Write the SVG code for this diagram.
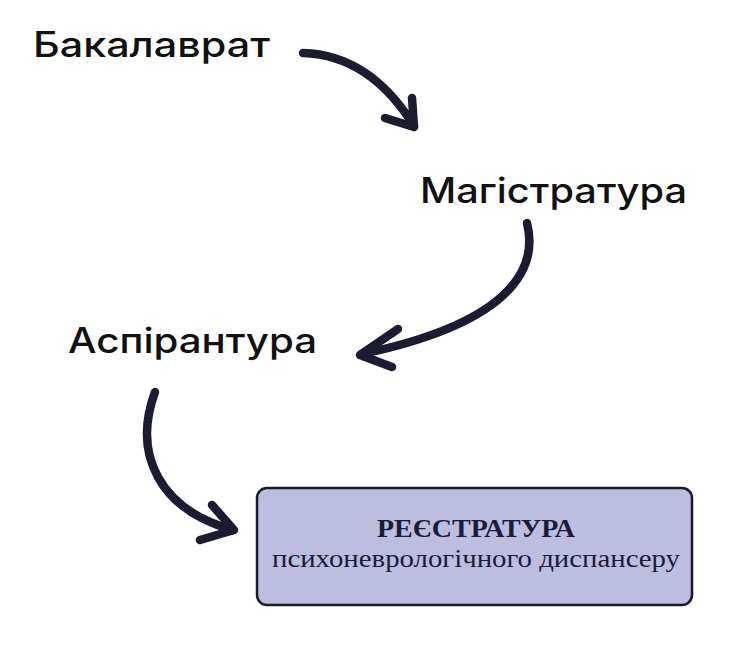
<svg xmlns="http://www.w3.org/2000/svg" width="735" height="650" viewBox="0 0 735 650">
<style>
.lbl{font-family:Inter,"Open Sans","Liberation Sans",sans-serif;font-weight:500;font-size:35px;fill:#111111}
.arrow{fill:none;stroke:#1c1c30;stroke-width:8.5;stroke-linecap:round;stroke-linejoin:round}
.box{fill:#bdbddf;stroke:#1a1a2e;stroke-width:2.5}
.t1{font-family:"Liberation Serif","Times New Roman",serif;font-weight:bold;font-size:26px;fill:#1b1b3a}
.t2{font-family:"Liberation Serif","Times New Roman",serif;font-size:26px;fill:#1b1b3a}
</style>
<rect width="735" height="650" fill="#ffffff"/>
<g id="connectors">
<path class="arrow" d="M303,53 Q370,55 414,126"/>
<path class="arrow" d="M385,118 L414,127 L412,98"/>
<path class="arrow" d="M527,223 C540,275 500,325 362,354"/>
<path class="arrow" d="M398,329 L360,355 L392,367"/>
<path class="arrow" d="M155,392 C132,455 160,510 233,530"/>
<path class="arrow" d="M212,505 L234,530 L200,540"/>
</g>
<g id="node-bakalavrat">
<text class="lbl" x="33" y="57" textLength="237" lengthAdjust="spacingAndGlyphs">Бакалаврат</text>
</g>
<g id="node-magistratura">
<text class="lbl" x="420" y="203" textLength="267" lengthAdjust="spacingAndGlyphs">Магістратура</text>
</g>
<g id="node-aspirantura">
<text class="lbl" x="68" y="353" textLength="249" lengthAdjust="spacingAndGlyphs">Аспірантура</text>
</g>
<g id="node-reiestratura">
<rect class="box" x="257" y="488" width="435" height="117" rx="10"/>
<text class="t1" x="476" y="537" text-anchor="middle" textLength="198" lengthAdjust="spacingAndGlyphs">РЕЄСТРАТУРА</text>
<text class="t2" x="476" y="567" text-anchor="middle" textLength="408" lengthAdjust="spacingAndGlyphs">психоневрологічного диспансеру</text>
</g>
</svg>
